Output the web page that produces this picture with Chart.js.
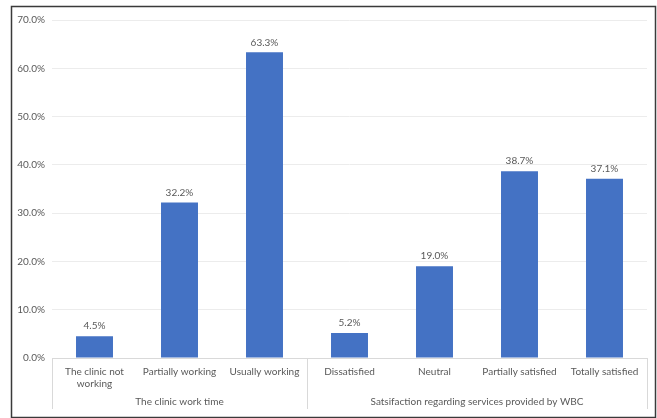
<!DOCTYPE html>
<html>
<head>
<meta charset="utf-8">
<script src="https://cdn.jsdelivr.net/npm/chart.js@4"></script>
<style>
  html, body { margin: 0; padding: 0; background: #fff; }
  #wrap { width: 657px; height: 418px; position: relative; }
</style>
</head>
<body>
<div id="wrap"><canvas id="chart" width="657" height="418"></canvas></div>
<script>
// categories and values
const categories = [
  ['The clinic not', 'working'],
  'Partially working',
  'Usually working',
  'Dissatisfied',
  'Neutral',
  'Partially satisfied',
  'Totally satisfied'
];
const values = [4.5, 32.2, 63.3, 5.2, 19.0, 38.7, 37.1];
const groups = ['The clinic work time', 'Satsifaction regarding services provided by WBC'];
const groupSizes = [3, 4];

const TEXT = '#595959';
const FONT = 'Lato, "Liberation Sans", sans-serif';

// frame around the picture
const framePlugin = {
  id: 'frame',
  beforeDraw(chart) {
    const ctx = chart.ctx;
    ctx.save();
    ctx.fillStyle = '#fff';
    ctx.fillRect(0, 0, chart.width, chart.height);
    ctx.strokeStyle = '#3a3a3a';
    ctx.lineWidth = 1.5;
    ctx.strokeRect(11.5, 6.5, 644, 411);
    ctx.restore();
  }
};

// value labels over the bars
const valueLabels = {
  id: 'valueLabels',
  afterDatasetsDraw(chart) {
    const ctx = chart.ctx;
    const meta = chart.getDatasetMeta(0);
    ctx.save();
    ctx.fillStyle = TEXT;
    ctx.font = '10px ' + FONT;
    ctx.textAlign = 'center';
    ctx.textBaseline = 'bottom';
    meta.data.forEach((bar, i) => {
      ctx.fillText(values[i].toFixed(1) + '%', bar.x, bar.y - 5);
    });
    ctx.restore();
  }
};

// group separators and group names under the axis
const groupAxis = {
  id: 'groupAxis',
  afterDraw(chart) {
    const ctx = chart.ctx;
    const x = chart.scales.x;
    const area = chart.chartArea;
    const bottom = 409;
    const edges = [area.left];
    let idx = 0;
    groupSizes.forEach((n, g) => {
      idx += n;
      if (idx < categories.length) {
        edges.push((x.getPixelForValue(idx - 1) + x.getPixelForValue(idx)) / 2);
      } else {
        edges.push(area.right);
      }
    });
    ctx.save();
    ctx.strokeStyle = '#d9d9d9';
    ctx.lineWidth = 1;
    edges.forEach(e => {
      ctx.beginPath();
      ctx.moveTo(Math.round(e) + 0.5, area.bottom);
      ctx.lineTo(Math.round(e) + 0.5, bottom);
      ctx.stroke();
    });
    ctx.fillStyle = TEXT;
    ctx.font = '10px ' + FONT;
    ctx.textAlign = 'center';
    ctx.textBaseline = 'middle';
    groups.forEach((name, g) => {
      ctx.fillText(name, (edges[g] + edges[g + 1]) / 2, 402);
    });
    ctx.restore();
  }
};

new Chart(document.getElementById('chart'), {
  type: 'bar',
  data: {
    labels: categories,
    datasets: [{
      data: values,
      backgroundColor: '#4472C4',
      categoryPercentage: 0.87,
      barPercentage: 0.5
    }]
  },
  options: {
    responsive: false,
    animation: false,
    layout: { padding: { top: 20, right: 10, left: 0, bottom: 0 } },
    plugins: {
      legend: { display: false },
      tooltip: { enabled: false }
    },
    scales: {
      x: {
        grid: { display: false, drawTicks: false },
        border: { display: true, color: '#d9d9d9' },
        ticks: {
          color: TEXT,
          font: { size: 10, family: FONT },
          padding: 8,
          maxRotation: 0,
          autoSkip: false
        },
        afterFit: s => { s.height = 60; }
      },
      y: {
        min: 0,
        max: 70,
        grid: { color: '#ececec', drawTicks: false },
        border: { display: false },
        ticks: {
          stepSize: 10,
          color: TEXT,
          font: { size: 10, family: FONT },
          padding: 7,
          callback: v => v.toFixed(1) + '%'
        },
        afterFit: s => { s.width = 52; }
      }
    }
  },
  plugins: [framePlugin, valueLabels, groupAxis]
});
</script>
</body>
</html>
